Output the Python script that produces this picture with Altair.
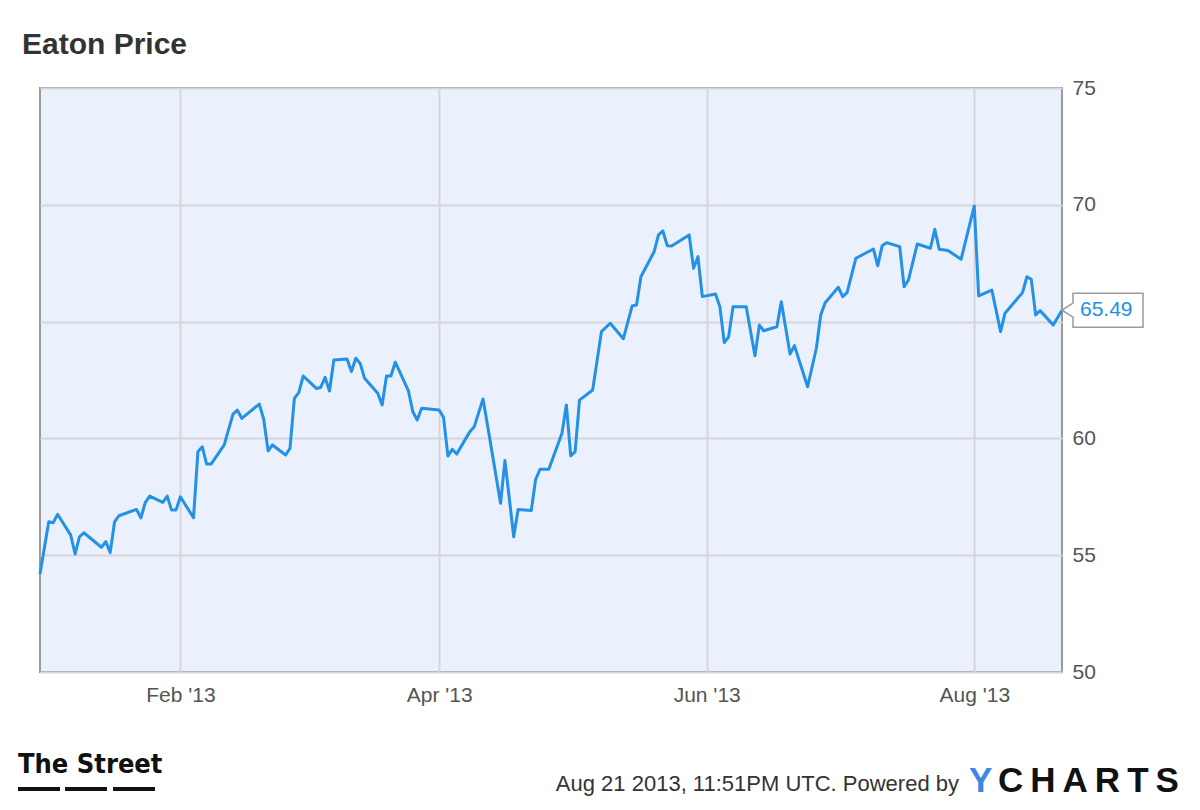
import altair as alt
import pandas as pd

TITLE = "Eaton Price"
DATES = [
    "2012-12-31", "2013-01-02", "2013-01-03", "2013-01-04", "2013-01-07", "2013-01-08",
    "2013-01-09", "2013-01-10", "2013-01-14", "2013-01-15", "2013-01-16", "2013-01-17",
    "2013-01-18", "2013-01-22", "2013-01-23", "2013-01-24", "2013-01-25", "2013-01-28",
    "2013-01-29", "2013-01-30", "2013-01-31", "2013-02-01", "2013-02-04", "2013-02-05",
    "2013-02-06", "2013-02-07", "2013-02-08", "2013-02-11", "2013-02-13", "2013-02-14",
    "2013-02-15", "2013-02-19", "2013-02-20", "2013-02-21", "2013-02-22", "2013-02-25",
    "2013-02-26", "2013-02-27", "2013-02-28", "2013-03-01", "2013-03-04", "2013-03-05",
    "2013-03-06", "2013-03-07", "2013-03-08", "2013-03-11", "2013-03-12", "2013-03-13",
    "2013-03-14", "2013-03-15", "2013-03-18", "2013-03-19", "2013-03-20", "2013-03-21",
    "2013-03-22", "2013-03-25", "2013-03-26", "2013-03-27", "2013-03-28", "2013-04-01",
    "2013-04-02", "2013-04-03", "2013-04-04", "2013-04-05", "2013-04-08", "2013-04-09",
    "2013-04-11", "2013-04-12", "2013-04-15", "2013-04-16", "2013-04-18", "2013-04-19",
    "2013-04-22", "2013-04-23", "2013-04-24", "2013-04-26", "2013-04-29", "2013-04-30",
    "2013-05-01", "2013-05-02", "2013-05-03", "2013-05-06", "2013-05-08", "2013-05-10",
    "2013-05-13", "2013-05-15", "2013-05-16", "2013-05-17", "2013-05-20", "2013-05-21",
    "2013-05-22", "2013-05-23", "2013-05-24", "2013-05-28", "2013-05-29", "2013-05-30",
    "2013-05-31", "2013-06-03", "2013-06-04", "2013-06-05", "2013-06-06", "2013-06-07",
    "2013-06-10", "2013-06-12", "2013-06-13", "2013-06-14", "2013-06-17", "2013-06-18",
    "2013-06-20", "2013-06-21", "2013-06-24", "2013-06-26", "2013-06-27", "2013-06-28",
    "2013-07-01", "2013-07-02", "2013-07-03", "2013-07-05", "2013-07-09", "2013-07-10",
    "2013-07-11", "2013-07-12", "2013-07-15", "2013-07-16", "2013-07-17", "2013-07-19",
    "2013-07-22", "2013-07-23", "2013-07-24", "2013-07-26", "2013-07-29", "2013-08-01",
    "2013-08-02", "2013-08-05", "2013-08-07", "2013-08-08", "2013-08-12", "2013-08-13",
    "2013-08-14", "2013-08-15", "2013-08-16", "2013-08-19", "2013-08-21",
]
PRICES = [
    54.20, 56.43, 56.39, 56.75, 55.86, 55.05,
    55.79, 55.96, 55.34, 55.58, 55.11, 56.43,
    56.69, 56.96, 56.60, 57.25, 57.53, 57.26,
    57.53, 56.93, 56.93, 57.50, 56.60, 59.43,
    59.64, 58.90, 58.90, 59.72, 61.04, 61.21,
    60.86, 61.47, 60.82, 59.47, 59.72, 59.29,
    59.58, 61.72, 61.96, 62.67, 62.14, 62.18,
    62.61, 62.03, 63.36, 63.40, 62.86, 63.43,
    63.21, 62.57, 61.93, 61.43, 62.67, 62.67,
    63.26, 62.03, 61.14, 60.79, 61.29, 61.22,
    60.90, 59.25, 59.53, 59.33, 60.29, 60.50,
    61.69, 60.60, 57.22, 59.05, 55.79, 56.96,
    56.91, 58.25, 58.68, 58.68, 60.22, 61.43,
    59.25, 59.43, 61.64, 62.07, 64.57, 64.93,
    64.27, 65.67, 65.71, 66.92, 67.99, 68.71,
    68.88, 68.25, 68.24, 68.71, 67.28, 67.78,
    66.07, 66.18, 65.64, 64.10, 64.35, 65.64,
    65.64, 63.54, 64.85, 64.61, 64.78, 65.85,
    63.61, 63.97, 62.21, 63.86, 65.28, 65.81,
    66.47, 66.07, 66.24, 67.71, 68.11, 67.39,
    68.25, 68.38, 68.21, 66.49, 66.78, 68.32,
    68.14, 68.95, 68.10, 68.04, 67.67, 69.95,
    66.10, 66.35, 64.57, 65.36, 66.24, 66.92,
    66.81, 65.28, 65.47, 64.85, 65.49,
]
X_TICK_MONTHS = [2, 4, 6, 8]
Y_TICKS = [50, 55, 60, 65, 70, 75]
HIDDEN_Y_LABEL = 65  # covered by the last-value callout in the reference
LAST_LABEL = "65.49"
FOOTER = "Aug 21 2013, 11:51PM UTC.  Powered by"
LOGO_LEFT = "The Street"
LOGO_Y = "Y"
LOGO_REST = "C\u2009H\u2009A\u2009R\u2009T\u2009S"

FONT = "Liberation Sans, Arial, Helvetica, sans-serif"
NARROW = "Liberation Sans Narrow, Arial Narrow, DejaVu Sans Condensed, sans-serif"
LINE = "#2490e6"
BOX_PATH = "M0,0L1.1,-0.7L1.1,-1.7L8.1,-1.7L8.1,1.7L1.1,1.7L1.1,0.7Z"

df = pd.DataFrame({"date": DATES, "price": PRICES})
last = df.tail(1).assign(label=LAST_LABEL)

x_enc = alt.X(
    "date:T",
    title=None,
    scale=alt.Scale(
        type="utc",
        domain=[
            alt.DateTime(year=2012, month=12, date=31, utc=True),
            alt.DateTime(year=2013, month=8, date=21, utc=True),
        ],
        nice=False,
    ),
    axis=alt.Axis(
        values=[alt.DateTime(year=2013, month=m, date=1, utc=True) for m in X_TICK_MONTHS],
        format="%b '%y",
        grid=True, gridColor="#d6d6d6", gridWidth=2,
        domain=False, ticks=False,
        labelFont=FONT, labelFontSize=21, labelColor="#555555",
        labelPadding=12, labelOverlap=False, zindex=0,
    ),
)
y_enc = alt.Y(
    "price:Q",
    title=None,
    scale=alt.Scale(domain=[50, 75], nice=False, zero=False),
    axis=alt.Axis(
        orient="right", values=Y_TICKS,
        labelExpr=f"datum.value == {HIDDEN_Y_LABEL} ? '' : datum.label",
        grid=True, gridColor="#d6d6d6", gridWidth=2,
        domain=False, ticks=False,
        labelFont=FONT, labelFontSize=21, labelColor="#555555",
        labelPadding=10, labelOverlap=False, labelBaseline="middle", zindex=0,
    ),
)

line = alt.Chart(df).mark_line(color=LINE, strokeWidth=3, strokeJoin="round").encode(x=x_enc, y=y_enc)

box = alt.Chart(last).mark_point(
    shape=BOX_PATH, size=400, filled=True, fill="white", stroke="#9a9a9a",
    strokeWidth=1.5, opacity=1,
).encode(x=x_enc, y=y_enc)

box_text = alt.Chart(last).mark_text(
    align="left", baseline="middle", dx=18, fontSize=21, font=FONT, color=LINE,
).encode(x=x_enc, y=y_enc, text="label:N")


def deco(txt, x, y, **kw):
    return alt.Chart(pd.DataFrame({"t": [txt]})).mark_text(**kw).encode(
        x=alt.value(x), y=alt.value(y), text="t:N"
    )


title = deco(TITLE, -18, -34, align="left", baseline="alphabetic", fontSize=30,
             fontWeight="bold", font=FONT, color="#333333")
street = deco(LOGO_LEFT, -22, 685, align="left", baseline="alphabetic", fontSize=27,
              fontWeight="bold", font=NARROW, color="#111111")
footer = deco(FOOTER, 919, 703, align="right", baseline="alphabetic", fontSize=22,
              font=FONT, color="#333333")
logo_y = deco(LOGO_Y, 929, 704, align="left", baseline="alphabetic", fontSize=35,
              fontWeight="bold", font=FONT, color="#3c87e6")
logo_rest = deco(LOGO_REST, 958, 704, align="left", baseline="alphabetic", fontSize=35,
                 fontWeight="bold", font=FONT, color="#111111")

dashes = []
for x0, x1 in [(-22, 20), (25, 67), (73, 115)]:
    dashes.append(
        alt.Chart(pd.DataFrame({"t": [0]})).mark_rule(color="#111111", strokeWidth=4).encode(
            x=alt.value(x0), x2=alt.value(x1), y=alt.value(701)
        )
    )

chart = alt.layer(line, box, box_text, title, street, footer, logo_y, logo_rest, *dashes).properties(
    width=1022,
    height=584,
    padding={"left": 32, "top": 80, "right": 130, "bottom": 130},
    autosize="none",
    background="white",
).configure_view(fill="#eaf1fc", stroke="#999999", strokeWidth=2)

chart.save("out.html", embed_options={"renderer": "svg", "actions": False})
